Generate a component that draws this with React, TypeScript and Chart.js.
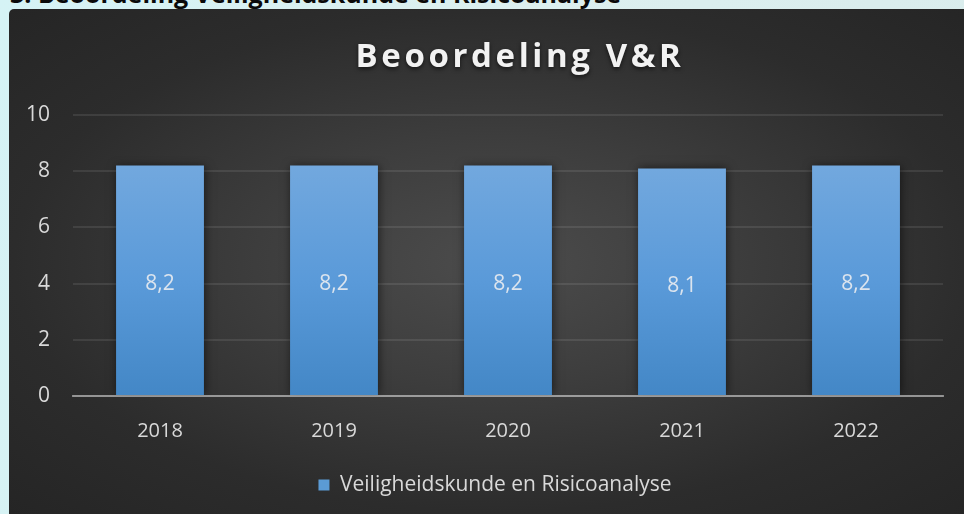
import React, { useEffect, useRef } from 'react';
import { Chart, registerables } from 'chart.js';

Chart.register(...registerables);

const PAGE_HEADING = '3. Beoordeling Veiligheidskunde en Risicoanalyse';
const CHART_TITLE = 'Beoordeling V&R';
const SERIES_NAME = 'Veiligheidskunde en Risicoanalyse';
const YEARS = ['2018', '2019', '2020', '2021', '2022'];
const SCORES = [8.2, 8.2, 8.2, 8.1, 8.2];
const Y_MIN = 0;
const Y_MAX = 10;
const Y_STEP = 2;

const FONT = "'Open Sans', sans-serif";
const TEXT_COLOR = '#d9d9d9';

const fmt = (v: number) => String(v).replace('.', ',');

const barShadow = {
  id: 'barShadow',
  beforeDatasetsDraw(chart: any) {
    const ctx = chart.ctx;
    ctx.save();
    ctx.shadowColor = 'rgba(0,0,0,0.55)';
    ctx.shadowBlur = 9;
    ctx.shadowOffsetX = 1;
    ctx.shadowOffsetY = 0;
  },
  afterDatasetsDraw(chart: any) {
    chart.ctx.restore();
  },
};

const legendShift = {
  id: 'legendShift',
  afterLayout(chart: any) {
    const lg = chart.legend;
    if (lg) {
      lg.left += 19;
      lg.right += 19;
    }
  },
};

const overlay = {
  id: 'overlay',
  afterDraw(chart: any) {
    const { ctx, chartArea } = chart;
    // title
    ctx.save();
    ctx.font = `bold 33px ${FONT}`;
    (ctx as any).letterSpacing = '3.6px';
    ctx.fillStyle = '#f2f2f2';
    ctx.textAlign = 'center';
    ctx.textBaseline = 'alphabetic';
    ctx.shadowColor = 'rgba(0,0,0,0.6)';
    ctx.shadowBlur = 4;
    ctx.shadowOffsetY = 2;
    ctx.fillText(CHART_TITLE, (chartArea.left + chartArea.right) / 2 + 12, 58);
    ctx.restore();
    // data labels
    const meta = chart.getDatasetMeta(0);
    ctx.save();
    ctx.font = `21px ${FONT}`;
    ctx.fillStyle = '#dbe4ee';
    ctx.textAlign = 'center';
    ctx.textBaseline = 'middle';
    meta.data.forEach((bar: any, i: number) => {
      const { x, y, base } = bar.getProps(['x', 'y', 'base'], true);
      ctx.fillText(fmt(SCORES[i]), x, (y + base) / 2 + 4);
    });
    ctx.restore();
  },
};

export default function App() {
  const ref = useRef<HTMLCanvasElement | null>(null);

  useEffect(() => {
    const canvas = ref.current;
    if (!canvas) return;
    const chart = new Chart(canvas, {
      type: 'bar',
      data: {
        labels: YEARS,
        datasets: [
          {
            label: SERIES_NAME,
            data: SCORES,
            backgroundColor: (c: any) => {
              const ch = c.chart;
              const area = ch.chartArea;
              if (!area || !ch.scales || !ch.scales.y) return '#5b9bd5';
              const top = ch.scales.y.getPixelForValue(SCORES[c.dataIndex] ?? Y_MAX);
              const g = ch.ctx.createLinearGradient(0, top, 0, area.bottom);
              g.addColorStop(0, '#72a8de');
              g.addColorStop(0.5, '#5a9ad9');
              g.addColorStop(1, '#4387c6');
              return g;
            },
            borderWidth: 0,
            categoryPercentage: 1,
            barPercentage: 0.505,
          },
        ],
      },
      options: {
        responsive: false,
        animation: false,
        events: [],
        layout: { padding: { top: 106, left: 0, right: 21, bottom: 8.5 } },
        scales: {
          x: {
            grid: { display: false, drawTicks: false },
            border: { display: true, color: 'rgba(255,255,255,0.45)', width: 2, z: 1 },
            ticks: { color: TEXT_COLOR, font: { family: FONT, size: 20 }, padding: 23 },
            afterFit: (s: any) => {
              s.height = 68.5;
            },
          },
          y: {
            min: Y_MIN,
            max: Y_MAX,
            ticks: {
              stepSize: Y_STEP,
              color: TEXT_COLOR,
              font: { family: FONT, size: 21 },
              padding: 23,
            },
            grid: { color: 'rgba(255,255,255,0.09)', lineWidth: 2, drawTicks: false },
            border: { display: false },
            afterFit: (s: any) => {
              s.width = 64;
            },
          },
        },
        plugins: {
          title: { display: false },
          tooltip: { enabled: false },
          legend: {
            position: 'bottom',
            labels: {
              color: TEXT_COLOR,
              font: { family: FONT, size: 21 },
              boxWidth: 11,
              boxHeight: 11,
              padding: 10,
              generateLabels: (ch: any) =>
                ch.data.datasets.map((ds: any, i: number) => ({
                  text: ds.label,
                  fillStyle: '#5b9bd5',
                  strokeStyle: '#5b9bd5',
                  lineWidth: 0,
                  fontColor: TEXT_COLOR,
                  hidden: false,
                  datasetIndex: i,
                })),
            },
          },
        },
      },
      plugins: [barShadow, legendShift, overlay],
    } as any);
    return () => chart.destroy();
  }, []);

  return (
    <div
      style={{
        position: 'fixed',
        inset: 0,
        overflow: 'hidden',
        background: 'linear-gradient(100deg, #d5f3f5 0%, #dcefef 50%, #d9ecec 100%)',
      }}
    >
      <div
        style={{
          position: 'absolute',
          left: 10,
          top: -19,
          font: `bold 25px ${FONT}`,
          lineHeight: '25px',
          color: '#0a0a0a',
          whiteSpace: 'nowrap',
        }}
      >
        {PAGE_HEADING}
      </div>
      <div
        style={{
          position: 'absolute',
          left: 9,
          top: 9,
          width: 955,
          height: 505,
          overflow: 'hidden',
          borderTopLeftRadius: 5,
          background:
            'radial-gradient(ellipse farthest-corner at 51% 50%, #4c4c4c 0%, #3d3d3d 35%, #2c2c2c 70%, #252525 100%)',
        }}
      >
        <canvas ref={ref} width={955} height={505} style={{ display: 'block' }} />
      </div>
    </div>
  );
}
